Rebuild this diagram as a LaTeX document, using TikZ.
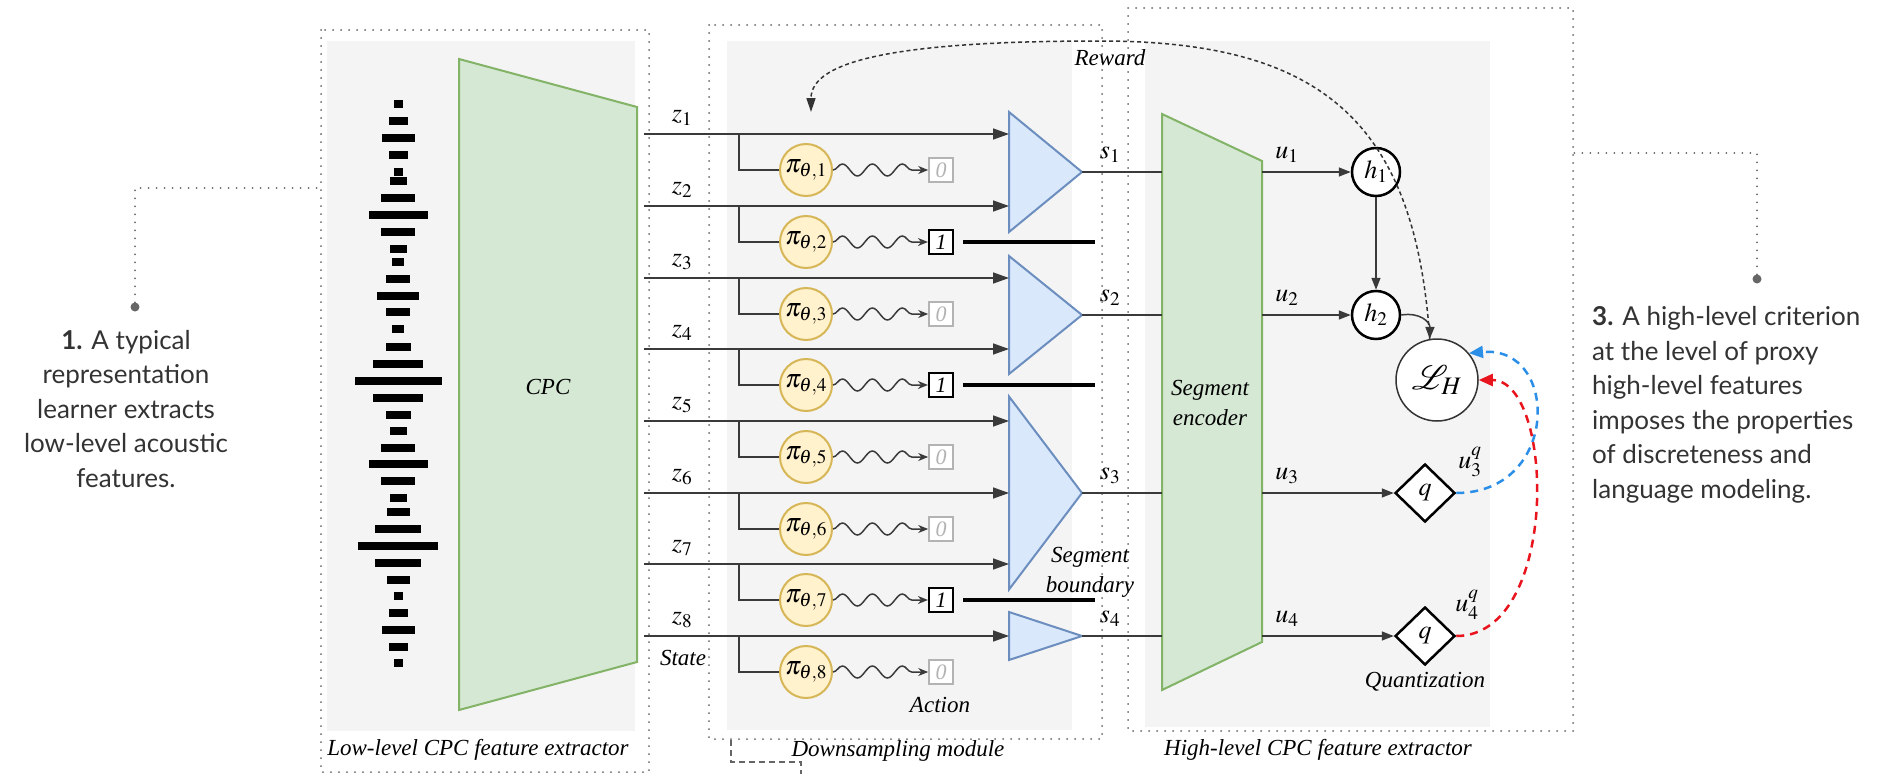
\documentclass[tikz,border=0pt]{standalone}
\usepackage{mathptmx}
\usepackage{fontspec}
\setmainfont{Liberation Serif}
\newfontfamily\notefont{Lato}
\usetikzlibrary{arrows.meta,shapes.geometric,decorations.pathmorphing}

\definecolor{panelgray}{HTML}{F4F4F4}
\definecolor{framegray}{HTML}{666666}
\definecolor{linegray}{HTML}{3A3A3A}
\definecolor{cpcfill}{HTML}{D5E8D4}
\definecolor{cpcdraw}{HTML}{82B366}
\definecolor{trifill}{HTML}{DAE8FC}
\definecolor{tridraw}{HTML}{6C8EBF}
\definecolor{polfill}{HTML}{FFF2CC}
\definecolor{poldraw}{HTML}{D6B656}
\definecolor{zerogray}{HTML}{B3B3B3}
\definecolor{lossblue}{HTML}{2B8FE8}
\definecolor{lossred}{HTML}{E8141E}

\begin{document}
\begin{tikzpicture}[x=1pt, y=-1pt,
    panel/.style={fill=panelgray},
    frame/.style={draw=framegray, line width=2pt, line cap=round, dash pattern=on 0pt off 8pt},
    encoder/.style={draw=cpcdraw, fill=cpcfill, line width=2pt},
    caption/.style={font=\fontsize{23}{30}\selectfont\itshape, align=center},
    lbl/.style={font=\fontsize{26}{30}\selectfont},
    note/.style={font=\fontsize{26}{34.5}\selectfont\notefont, text=black!80, align=center, inner sep=0pt},
    notedot/.style={circle, fill=framegray, inner sep=0pt, minimum size=9pt},
    merge/.style={isosceles triangle, isosceles triangle stretches, draw=tridraw, fill=trifill, line width=2pt, inner sep=0pt, outer sep=0pt, minimum height=73pt, anchor=apex},
    policy/.style={circle, draw=poldraw, fill=polfill, line width=2pt, minimum size=52pt, inner sep=0pt, font=\fontsize{26}{30}\selectfont},
    idle/.style={rectangle, draw=zerogray, fill=white, line width=1.6pt, minimum size=24pt, inner sep=0pt, text=zerogray, font=\fontsize{22}{26}\selectfont\itshape},
    cut/.style={idle, draw=black, text=black, line width=2.2pt},
    hid/.style={circle, draw=black, fill=white, line width=2.5pt, minimum size=48pt, inner sep=0pt, font=\fontsize{26}{30}\selectfont},
    loss/.style={circle, draw=black!80, fill=white, line width=1.5pt, minimum size=82pt, inner sep=0pt, font=\fontsize{34}{38}\selectfont},
    quant/.style={diamond, draw=black, fill=white, line width=2.5pt, minimum width=60pt, minimum height=58pt, inner sep=0pt, font=\fontsize{26}{30}\selectfont},
    flow/.style={draw=linegray, line width=1.5pt, -{Triangle[length=16pt,width=11pt]}},
    flowsm/.style={draw=linegray, line width=1.5pt, -{Triangle[length=12pt,width=9pt]}},
    link/.style={draw=linegray, line width=1.5pt},
    wave/.style={draw=linegray, line width=1.5pt, decorate, decoration={snake, segment length=30pt, amplitude=6pt, post length=8pt}, -{Stealth[length=10pt,width=8pt]}},
    boundary/.style={draw=black, line width=4pt},
    reward/.style={draw=black!80, line width=1.5pt, dash pattern=on 4pt off 3pt, -{Triangle[length=14pt,width=9pt]}},
    qloss/.style={line width=2.5pt, dash pattern=on 8pt off 6pt, -{Triangle[length=14pt,width=12pt]}}
]
\useasboundingbox (0,0) rectangle (1891,774);

% Panels
\fill[panel] (327,41) rectangle (635,731);
\fill[panel] (727,41) rectangle (1072,730);
\fill[panel] (1145,41) rectangle (1490,727);
\draw[frame] (321,30) rectangle (649,772);
\draw[frame] (709,25) rectangle (1102,739);
\draw[frame] (1128,8) rectangle (1573,731);
\draw[draw=framegray, line width=1.5pt, dash pattern=on 6pt off 4pt] (731,740) -- (731,762) -- (801,762) -- (801,774);

\node[caption] (lowcap) at (478,750) {Low-level CPC feature extractor};
\node[caption] (downcap) at (898,751) {Downsampling module};
\node[caption] (highcap) at (1318,750) {High-level CPC feature extractor};

% Waveform
\foreach \y/\w in {104/9, 121/19, 138/33, 155/19, 172/9, 181/17, 198/34, 215/59, 232/34, 249/17,
    262/12, 279/24, 296/42, 312/24, 329/12, 347/25, 364/50, 381/87, 398/50, 415/25,
    431/17, 448/34, 464/59, 481/34, 498/17, 512/23, 529/46, 546/80, 563/46, 580/23,
    596/9, 613/19, 630/33, 647/19, 663/9}
    \fill ({398-\w/2},{\y-4}) rectangle ({398+\w/2},{\y+4});

% CPC encoder
\draw[encoder] (459,59) -- (637,107) -- (637,662) -- (459,710) -- cycle;
\node[caption] (cpc) at (548,387) {CPC};

% States z_t
\coordinate (z1) at (644,134);
\coordinate (z2) at (644,206);
\coordinate (z3) at (644,278);
\coordinate (z4) at (644,349);
\coordinate (z5) at (644,421);
\coordinate (z6) at (644,493);
\coordinate (z7) at (644,564);
\coordinate (z8) at (644,636);
\node[lbl] (zl1) at (682,118) {$z_1$};
\node[lbl] (zl2) at (682,190) {$z_2$};
\node[lbl] (zl3) at (682,262) {$z_3$};
\node[lbl] (zl4) at (682,333) {$z_4$};
\node[lbl] (zl5) at (682,405) {$z_5$};
\node[lbl] (zl6) at (682,477) {$z_6$};
\node[lbl] (zl7) at (682,548) {$z_7$};
\node[lbl] (zl8) at (682,620) {$z_8$};
\node[caption] (state) at (683,658) {State};

% Merging of states into segments
\node[merge, minimum width=120pt] (seg1) at (1082,172) {};
\node[merge, minimum width=118pt] (seg2) at (1082,315) {};
\node[merge, minimum width=193pt] (seg3) at (1082,493) {};
\node[merge, minimum width=48pt] (seg4) at (1082,636) {};

\draw[flow] (z1) -- (z1 -| seg1.west);
\draw[flow] (z2) -- (z2 -| seg1.west);
\draw[flow] (z3) -- (z3 -| seg2.west);
\draw[flow] (z4) -- (z4 -| seg2.west);
\draw[flow] (z5) -- (z5 -| seg3.west);
\draw[flow] (z6) -- (z6 -| seg3.west);
\draw[flow] (z7) -- (z7 -| seg3.west);
\draw[flow] (z8) -- (z8 -| seg4.west);

% Policies
\node[policy] (pi1) at (806,170) {$\pi_{\theta,1}$};
\node[policy] (pi2) at (806,242) {$\pi_{\theta,2}$};
\node[policy] (pi3) at (806,314) {$\pi_{\theta,3}$};
\node[policy] (pi4) at (806,385) {$\pi_{\theta,4}$};
\node[policy] (pi5) at (806,457) {$\pi_{\theta,5}$};
\node[policy] (pi6) at (806,529) {$\pi_{\theta,6}$};
\node[policy] (pi7) at (806,600) {$\pi_{\theta,7}$};
\node[policy] (pi8) at (806,672) {$\pi_{\theta,8}$};

\draw[link] ([xshift=95pt]z1) |- (pi1);
\draw[link] ([xshift=95pt]z2) |- (pi2);
\draw[link] ([xshift=95pt]z3) |- (pi3);
\draw[link] ([xshift=95pt]z4) |- (pi4);
\draw[link] ([xshift=95pt]z5) |- (pi5);
\draw[link] ([xshift=95pt]z6) |- (pi6);
\draw[link] ([xshift=95pt]z7) |- (pi7);
\draw[link] ([xshift=95pt]z8) |- (pi8);

% Actions
\node[idle] (act1) at (941,170) {0};
\node[cut] (act2) at (941,242) {1};
\node[idle] (act3) at (941,314) {0};
\node[cut] (act4) at (941,385) {1};
\node[idle] (act5) at (941,457) {0};
\node[idle] (act6) at (941,529) {0};
\node[cut] (act7) at (941,600) {1};
\node[idle] (act8) at (941,672) {0};
\node[caption] (action) at (940,705) {Action};

\draw[wave] (pi1) -- (act1);
\draw[wave] (pi2) -- (act2);
\draw[wave] (pi3) -- (act3);
\draw[wave] (pi4) -- (act4);
\draw[wave] (pi5) -- (act5);
\draw[wave] (pi6) -- (act6);
\draw[wave] (pi7) -- (act7);
\draw[wave] (pi8) -- (act8);

% Segment boundaries
\draw[boundary] ([xshift=9pt]act2.east) -- ([xshift=141pt]act2.east);
\draw[boundary] ([xshift=9pt]act4.east) -- ([xshift=141pt]act4.east);
\draw[boundary] ([xshift=9pt]act7.east) -- ([xshift=141pt]act7.east);
\node[caption] (bound) at (1090,572) {Segment\\boundary};
\node[caption] (rw) at (1110,58) {Reward};

% Segment encoder
\draw[encoder] (1162,114) -- (1262,161) -- (1262,642) -- (1162,690) -- cycle;
\coordinate (encW) at (1162,400);
\coordinate (encE) at (1262,400);
\node[caption] (enc) at (1210,403) {Segment\\encoder};

\draw[link] (seg1.apex) -- (seg1.apex -| encW);
\draw[link] (seg2.apex) -- (seg2.apex -| encW);
\draw[link] (seg3.apex) -- (seg3.apex -| encW);
\draw[link] (seg4.apex) -- (seg4.apex -| encW);
\node[lbl] (sl1) at (1110,155) {$s_1$};
\node[lbl] (sl2) at (1110,298) {$s_2$};
\node[lbl] (sl3) at (1110,476) {$s_3$};
\node[lbl] (sl4) at (1110,619) {$s_4$};

% High-level criterion
\node[hid] (h1) at (1376,172) {$h_1$};
\node[hid] (h2) at (1376,315) {$h_2$};
\node[loss] (LH) at (1437,380) {$\mathcal{L}_H$};
\node[quant] (q3) at (1425,493) {$q$};
\node[quant] (q4) at (1425,636) {$q$};

\draw[flowsm] (encE |- h1) -- (h1);
\draw[flowsm] (encE |- h2) -- (h2);
\draw[flowsm] (encE |- q3) -- (q3);
\draw[flowsm] (encE |- q4) -- (q4);
\draw[flowsm] (h1) -- (h2);
\draw[flowsm] (h2.east) .. controls (1420,312) and (1430,322) .. (LH.100);
\node[lbl] (ul1) at (1287,155) {$u_1$};
\node[lbl] (ul2) at (1287,298) {$u_2$};
\node[lbl] (ul3) at (1287,476) {$u_3$};
\node[lbl] (ul4) at (1287,619) {$u_4$};
\node[lbl] (uq3) at (1470,462) {$u_3^q$};
\node[lbl] (uq4) at (1467,605) {$u_4^q$};
\node[caption] (quantcap) at (1425,682) {Quantization};

% Reward back to the policies
\coordinate (rwtip) at (811,112);
\draw[reward] (LH.100) .. controls (1415,120) and (1320,41) .. (1100,41) .. controls (900,41) and (811,60) .. (rwtip);

% Quantized features to the criterion
\draw[qloss, draw=lossblue] (q3.east) .. controls (1560,493) and (1560,345) .. (LH.40);
\draw[qloss, draw=lossred] (q4.east) .. controls (1560,636) and (1555,380) .. (LH.east);

% Notes
\node[note] (note1) at (126,409) {\textbf{1.} A typical\\representation\\learner extracts\\low-level acoustic\\features.};
\node[notedot] (dot1) at (135,307) {};
\coordinate (lowedge) at (321,188);
\draw[frame] (dot1) |- (lowedge);

\node[note, align=left, anchor=west] (note3) at (1592,405) {\textbf{3.} A high-level criterion\\at the level of proxy\\high-level features\\imposes the properties\\of discreteness and\\language modeling.};
\node[notedot] (dot3) at (1757,279) {};
\coordinate (highedge) at (1573,153);
\draw[frame] (dot3) |- (highedge);

\end{tikzpicture}
\end{document}
